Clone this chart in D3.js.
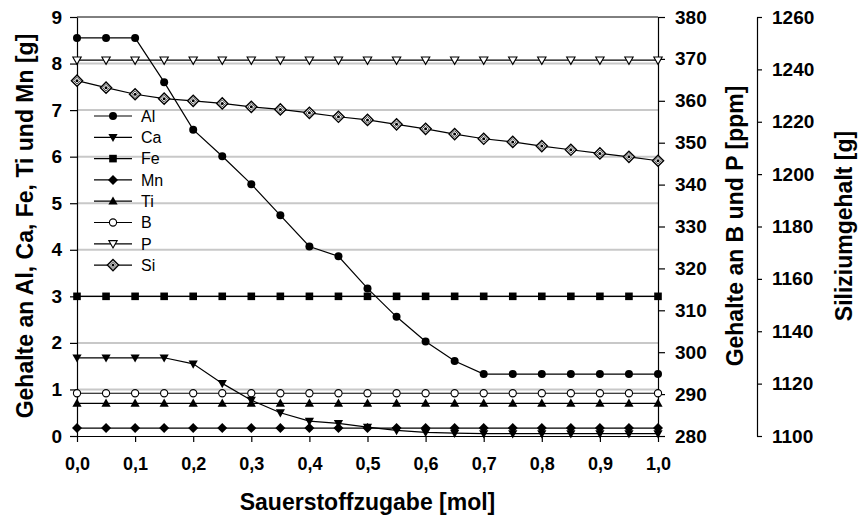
<!DOCTYPE html>
<html>
<head>
<meta charset="utf-8">
<script src="https://cdn.jsdelivr.net/npm/d3@7"></script>
<style>
  html, body { margin: 0; padding: 0; background: #fff; }
  svg { display: block; }
  text { font-family: "Liberation Sans", Arial, Helvetica, sans-serif; }
</style>
</head>
<body>
<svg id="chart" width="858" height="518"></svg>
<script>
// Sauerstoffzugabe in mol
const oxygen = [0, 0.05, 0.1, 0.15, 0.2, 0.25, 0.3, 0.35, 0.4, 0.45, 0.5, 0.55, 0.6, 0.65, 0.7, 0.75, 0.8, 0.85, 0.9, 0.95, 1.0];

// Gehalte in g (linke Achse)
const al = [8.55, 8.55, 8.55, 7.60, 6.58, 6.01, 5.41, 4.74, 4.07, 3.86, 3.17, 2.56, 2.03, 1.61, 1.33, 1.33, 1.33, 1.33, 1.33, 1.33, 1.33];
const ca = [1.68, 1.68, 1.68, 1.68, 1.55, 1.13, 0.77, 0.50, 0.32, 0.27, 0.19, 0.12, 0.08, 0.06, 0.05, 0.05, 0.05, 0.05, 0.05, 0.05, 0.05];
const fe = [3.0, 3.0, 3.0, 3.0, 3.0, 3.0, 3.0, 3.0, 3.0, 3.0, 3.0, 3.0, 3.0, 3.0, 3.0, 3.0, 3.0, 3.0, 3.0, 3.0, 3.0];
const mn = [0.17, 0.17, 0.17, 0.17, 0.17, 0.17, 0.17, 0.17, 0.17, 0.17, 0.17, 0.17, 0.17, 0.17, 0.17, 0.17, 0.17, 0.17, 0.17, 0.17, 0.17];
const ti = [0.70, 0.70, 0.70, 0.70, 0.70, 0.70, 0.70, 0.70, 0.70, 0.70, 0.70, 0.70, 0.70, 0.70, 0.70, 0.70, 0.70, 0.70, 0.70, 0.70, 0.70];

// Gehalte in ppm (erste rechte Achse)
const b = [290.2, 290.2, 290.2, 290.2, 290.2, 290.2, 290.2, 290.2, 290.2, 290.2, 290.2, 290.2, 290.2, 290.2, 290.2, 290.2, 290.2, 290.2, 290.2, 290.2, 290.2];
const p = [369.7, 369.7, 369.7, 369.7, 369.7, 369.7, 369.7, 369.7, 369.7, 369.7, 369.7, 369.7, 369.7, 369.7, 369.7, 369.7, 369.7, 369.7, 369.7, 369.7, 369.7];

// Siliziumgehalt in g (zweite rechte Achse)
const si = [1235.7, 1233.0, 1230.5, 1228.8, 1228.0, 1227.0, 1225.7, 1224.7, 1223.4, 1221.9, 1220.7, 1219.0, 1217.3, 1215.3, 1213.5, 1212.3, 1210.7, 1209.3, 1207.9, 1206.6, 1205.1];

// Achsenbeschriftungen
const xTicks = [0, 0.1, 0.2, 0.3, 0.4, 0.5, 0.6, 0.7, 0.8, 0.9, 1.0];
const gTicks = [0, 1, 2, 3, 4, 5, 6, 7, 8, 9];
const ppmTicks = [280, 290, 300, 310, 320, 330, 340, 350, 360, 370, 380];
const siTicks = [1100, 1120, 1140, 1160, 1180, 1200, 1220, 1240, 1260];

const seriesNames = ["Al", "Ca", "Fe", "Mn", "Ti", "B", "P", "Si"];
const seriesValues = [al, ca, fe, mn, ti, b, p, si];
const seriesAxis = ["g", "g", "g", "g", "g", "ppm", "ppm", "si"];
const seriesMarker = ["circle", "triDown", "square", "diamond", "triUp", "openCircle", "openTriDown", "siDiamond"];

const svg = d3.select("#chart");

const plot = { left: 77, right: 658, top: 17, bottom: 436 };
const x = d3.scaleLinear().domain([0, 1]).range([plot.left, plot.right]);
const yG = d3.scaleLinear().domain([0, 9]).range([plot.bottom, plot.top]);
const yPpm = d3.scaleLinear().domain([280, 380]).range([plot.bottom, plot.top]);
const ySi = d3.scaleLinear().domain([1100, 1260]).range([plot.bottom, plot.top]);
const scales = { g: yG, ppm: yPpm, si: ySi };

const de = d3.formatLocale({ decimal: ",", thousands: ".", grouping: [3], currency: ["", " €"] });
const fmtX = de.format(".1f");

// Gitternetzlinien der linken Achse
svg.append("g")
  .selectAll("line")
  .data(gTicks.filter(v => v > 0 && v < 9))
  .join("line")
  .attr("x1", plot.left).attr("x2", plot.right)
  .attr("y1", d => yG(d)).attr("y2", d => yG(d))
  .attr("stroke", "#c8c8c8")
  .attr("stroke-width", 2);

// obere Rahmenlinie
svg.append("line")
  .attr("x1", plot.left).attr("x2", plot.right)
  .attr("y1", plot.top).attr("y2", plot.top)
  .attr("stroke", "#000").attr("stroke-width", 1);

function styleAxis(size) {
  return g => {
    g.selectAll("path.domain").attr("stroke", "#000").attr("stroke-width", 1.2);
    g.selectAll(".tick line").attr("stroke", "#000").attr("stroke-width", 1.2);
    g.selectAll(".tick text")
      .attr("fill", "#000")
      .style("font-size", size + "px")
      .style("font-weight", "bold")
      .style("font-family", "'Liberation Sans', Arial, sans-serif");
  };
}

svg.append("g")
  .attr("transform", `translate(0,${plot.bottom})`)
  .call(d3.axisBottom(x).tickValues(xTicks).tickFormat(fmtX).tickSize(6).tickSizeOuter(0).tickPadding(15))
  .call(styleAxis(18));

svg.append("g")
  .attr("transform", `translate(${plot.left},0)`)
  .call(d3.axisLeft(yG).tickValues(gTicks).tickFormat(d3.format("d")).tickSize(7).tickSizeOuter(0).tickPadding(8))
  .call(styleAxis(19));

svg.append("g")
  .attr("transform", `translate(${plot.right},0)`)
  .call(d3.axisRight(yPpm).tickValues(ppmTicks).tickFormat(d3.format("d")).tickSize(7).tickSizeOuter(0).tickPadding(10))
  .call(styleAxis(19));

svg.append("g")
  .attr("transform", "translate(757,0)")
  .call(d3.axisRight(ySi).tickValues(siTicks).tickFormat(d3.format("d")).tickSize(5).tickSizeOuter(0).tickPadding(10))
  .call(styleAxis(19));

// Achsentitel
const titleStyle = sel => sel
  .attr("fill", "#000")
  .style("font-size", "23px")
  .style("font-weight", "bold")
  .attr("text-anchor", "middle");

svg.append("text")
  .attr("x", (plot.left + plot.right) / 2).attr("y", 510)
  .text("Sauerstoffzugabe [mol]")
  .call(titleStyle);

svg.append("text")
  .attr("transform", "translate(33,226) rotate(-90)")
  .text("Gehalte an Al, Ca, Fe, Ti und Mn [g]")
  .call(titleStyle);

svg.append("text")
  .attr("transform", "translate(743,226) rotate(-90)")
  .text("Gehalte an B und P [ppm]")
  .call(titleStyle);

svg.append("text")
  .attr("transform", "translate(852,226) rotate(-90)")
  .text("Siliziumgehalt [g]")
  .call(titleStyle);

// Markerformen
function drawMarker(g, type) {
  switch (type) {
    case "circle":
      g.append("circle").attr("r", 4).attr("fill", "#000");
      break;
    case "openCircle":
      g.append("circle").attr("r", 3.6).attr("fill", "#fff").attr("stroke", "#000").attr("stroke-width", 1.1);
      break;
    case "square":
      g.append("rect").attr("x", -3.8).attr("y", -3.8).attr("width", 7.6).attr("height", 7.6).attr("fill", "#000");
      break;
    case "diamond":
      g.append("path").attr("d", "M0,-5L5,0L0,5L-5,0Z").attr("fill", "#000");
      break;
    case "triUp":
      g.append("path").attr("d", "M0,-4.8L4.6,3.4L-4.6,3.4Z").attr("fill", "#000");
      break;
    case "triDown":
      g.append("path").attr("d", "M0,4.8L4.6,-3.4L-4.6,-3.4Z").attr("fill", "#000");
      break;
    case "openTriDown":
      g.append("path").attr("d", "M0,4.2L4.2,-3.2L-4.2,-3.2Z").attr("fill", "#fff").attr("stroke", "#000").attr("stroke-width", 1.1);
      break;
    case "siDiamond":
      g.append("path").attr("d", "M0,-5.6L5.6,0L0,5.6L-5.6,0Z").attr("fill", "#fff").attr("stroke", "#000").attr("stroke-width", 1.4);
      g.append("path").attr("d", "M0,-3.4L3.4,0L0,3.4L-3.4,0Z").attr("fill", "#fff").attr("stroke", "#000").attr("stroke-width", 0.7);
      g.append("circle").attr("r", 1.5).attr("fill", "#000");
      break;
  }
}

// Datenreihen
seriesNames.forEach((name, i) => {
  const yScale = scales[seriesAxis[i]];
  const pts = oxygen.map((o, j) => [x(o), yScale(seriesValues[i][j])]);
  const g = svg.append("g").attr("class", "series series-" + name);
  g.append("path")
    .attr("d", d3.line()(pts))
    .attr("fill", "none")
    .attr("stroke", "#000")
    .attr("stroke-width", 1.2);
  g.selectAll("g.pt")
    .data(pts)
    .join("g")
    .attr("class", "pt")
    .attr("transform", d => `translate(${d[0]},${d[1]})`)
    .each(function () { drawMarker(d3.select(this), seriesMarker[i]); });
});

// Legende
const legend = svg.append("g").attr("transform", "translate(94,116)");
seriesNames.forEach((name, i) => {
  const row = legend.append("g").attr("transform", `translate(0,${i * 21.3})`);
  row.append("line").attr("x1", 0).attr("x2", 38).attr("y1", 0).attr("y2", 0)
    .attr("stroke", "#000").attr("stroke-width", 1.2);
  const m = row.append("g").attr("transform", "translate(19,0)");
  drawMarker(m, seriesMarker[i]);
  row.append("text")
    .attr("x", 47).attr("y", 0).attr("dy", "0.36em")
    .attr("fill", "#000")
    .style("font-size", "16px")
    .text(name);
});
</script>
</body>
</html>
